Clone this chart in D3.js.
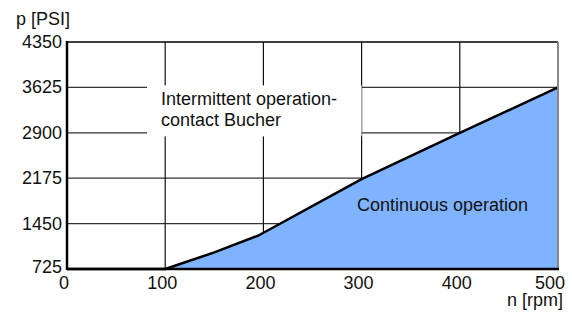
<!DOCTYPE html>
<html>
<head>
	<title>pressure-speed</title>
	<meta charset="utf-8">
	<style type="text/css">
		body { margin: 0; background: #fff; }
		text { font-family: "Liberation Sans", Arial, sans-serif; font-size: 18px; fill: #111; }
	</style>
</head>
<body>
<script type="text/javascript" src="https://cdn.jsdelivr.net/npm/d3@7/dist/d3.min.js"></script>
<script type="text/javascript">
	/*=========DATA=========*/
	var rpm = [0, 100, 150, 195, 300, 400, 500];
	var psi = [725, 725, 990, 1260, 2160, 2900, 3625];
	var xTicks = [0, 100, 200, 300, 400, 500];
	var yTicks = [725, 1450, 2175, 2900, 3625, 4350];
	var labels = ["Intermittent operation-", "contact Bucher"];
	var label2 = "Continuous operation";

	/*=====SIZE SVG======*/
	var w = 572, h = 314;
	var svg = d3.select("body").append("svg").attr("width", w).attr("height", h);

	var x = d3.scaleLinear().domain([0, 500]).range([67, 558]);
	var y = d3.scaleLinear().domain([725, 4350]).range([269, 42]);

	var pts = rpm.map(function(d, i){ return [d, psi[i]]; });

	// grid
	svg.selectAll("line.hg")
		.data(yTicks.slice(1, -1))
		.enter().append("line")
		.attr("x1", x(0)).attr("x2", x(500))
		.attr("y1", function(d){ return y(d); })
		.attr("y2", function(d){ return y(d); })
		.attr("stroke", "#333").attr("stroke-width", 1.2);
	svg.selectAll("line.vg")
		.data(xTicks.slice(1, -1))
		.enter().append("line")
		.attr("x1", function(d){ return x(d); })
		.attr("x2", function(d){ return x(d); })
		.attr("y1", y(4350)).attr("y2", y(725))
		.attr("stroke", "#111").attr("stroke-width", 1.2);

	// area
	var area = d3.area()
		.x(function(d){ return x(d[0]); })
		.y0(y(725))
		.y1(function(d){ return y(d[1]); });
	svg.append("path").datum(pts)
		.attr("fill", "#80b3ff")
		.attr("d", area);

	// label boxes cover grid lines
	svg.append("rect")
		.attr("x", x(0) + 80).attr("y", y(3625) - 2)
		.attr("width", x(300) - x(0) - 80).attr("height", 51)
		.attr("fill", "#fff");
	svg.append("rect")
		.attr("x", x(285)).attr("y", y(2175) + 14)
		.attr("width", 195).attr("height", 30)
		.attr("fill", "#80b3ff");

	// curve
	var line = d3.line()
		.x(function(d){ return x(d[0]); })
		.y(function(d){ return y(d[1]); });
	svg.append("path").datum(pts)
		.attr("fill", "none")
		.attr("stroke", "#000")
		.attr("stroke-width", 2.5)
		.attr("stroke-linejoin", "round")
		.attr("d", line);

	// frame
	svg.append("line")
		.attr("x1", x(0)).attr("x2", x(500))
		.attr("y1", y(4350)).attr("y2", y(4350))
		.attr("stroke", "#000").attr("stroke-width", 1.5);
	svg.append("line")
		.attr("x1", x(500)).attr("x2", x(500))
		.attr("y1", y(4350)).attr("y2", y(725))
		.attr("stroke", "#888").attr("stroke-width", 2);
	svg.append("line")
		.attr("x1", x(0)).attr("x2", x(500) + 1)
		.attr("y1", y(725)).attr("y2", y(725))
		.attr("stroke", "#000").attr("stroke-width", 2.5);
	svg.append("line")
		.attr("x1", x(0)).attr("x2", x(0))
		.attr("y1", y(4350) - 1).attr("y2", y(725) + 1)
		.attr("stroke", "#000").attr("stroke-width", 2.5);

	// y tick labels
	svg.selectAll("text.yl")
		.data(yTicks)
		.enter().append("text")
		.attr("x", x(0) - 5)
		.attr("y", function(d, i){ return y(d) + (i == 0 ? 4 : 6); })
		.attr("text-anchor", "end")
		.text(function(d){ return d; });

	// x tick labels
	svg.selectAll("text.xl")
		.data(xTicks)
		.enter().append("text")
		.attr("x", function(d, i){ return i == xTicks.length - 1 ? x(d) + 7 : x(d) - 3; })
		.attr("y", 289)
		.attr("text-anchor", function(d, i){ return i == xTicks.length - 1 ? "end" : "middle"; })
		.text(function(d){ return d; });

	// axis titles
	svg.append("text").attr("x", 16).attr("y", 25).text("p [PSI]");
	svg.append("text").attr("x", 563).attr("y", 306).attr("text-anchor", "end").text("n [rpm]");

	// region labels
	svg.selectAll("text.lab")
		.data(labels)
		.enter().append("text")
		.attr("x", 161)
		.attr("y", function(d, i){ return 105 + i * 21; })
		.text(function(d){ return d; });
	svg.append("text").attr("x", 357).attr("y", 211).text(label2);
</script>
</body>
</html>
